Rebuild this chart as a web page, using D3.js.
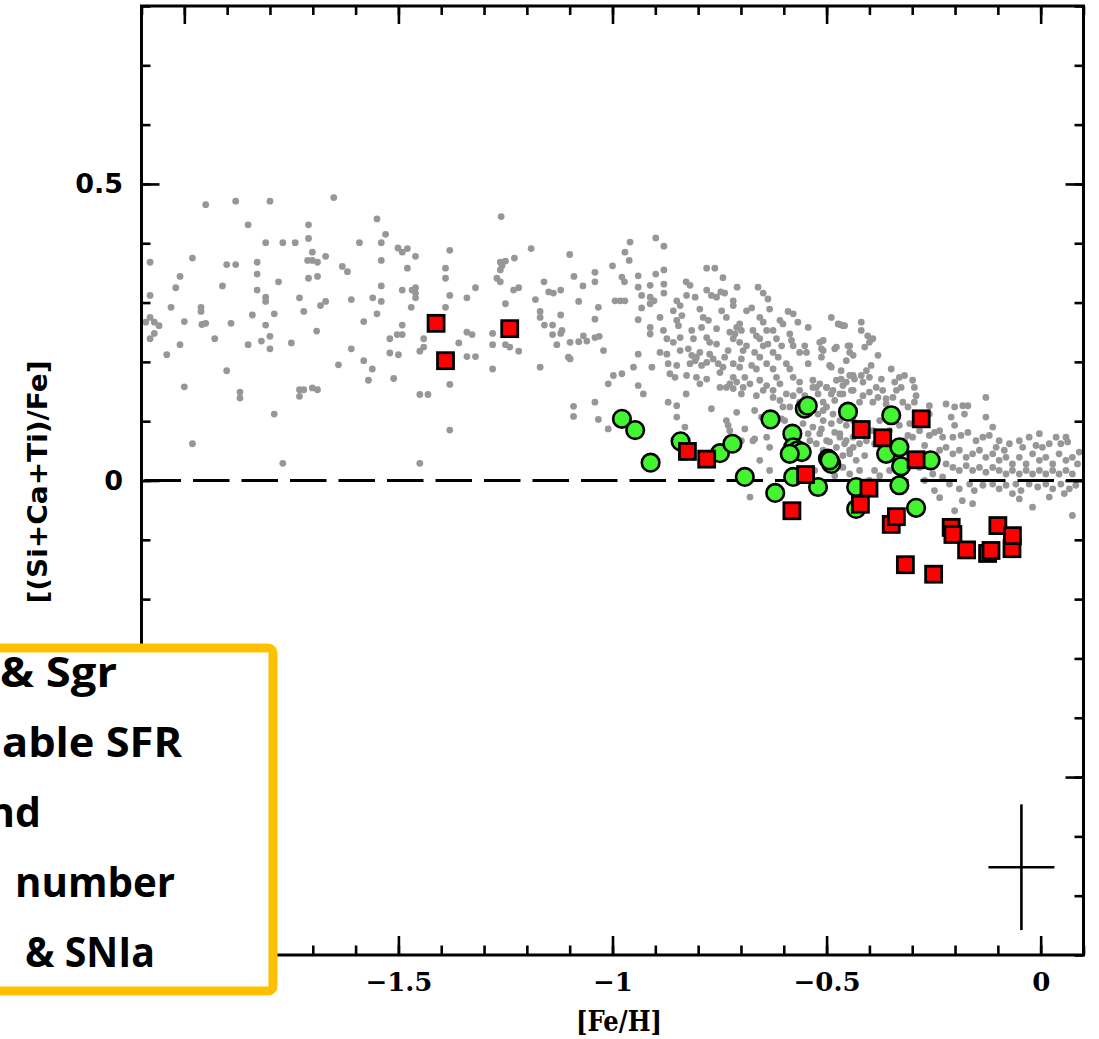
<!DOCTYPE html>
<html>
<head>
<meta charset="utf-8">
<script src="https://cdn.jsdelivr.net/npm/d3@7"></script>
<style>
  html, body { margin: 0; padding: 0; background: #fff; overflow: hidden; }
  svg { display: block; }
</style>
</head>
<body>
<svg id="chart" width="1099" height="1039"></svg>
<script>
// ---- data: [Fe/H], [(Si+Ca+Ti)/Fe] ----
const fieldStars = [
  [-1.950,0.465],[-1.880,0.471],[-1.800,0.471],[-1.651,0.477],[-1.851,0.431],[-1.710,0.431],[-1.550,0.441],[-1.260,0.445],
  [-1.530,0.415],[-1.710,0.408],[-1.810,0.401],[-1.770,0.401],[-1.741,0.401],[-1.591,0.401],[-1.540,0.401],[-1.190,0.391],
  [-1.380,0.388],[-1.501,0.392],[-1.479,0.391],[-1.491,0.385],[-1.701,0.385],[-1.670,0.378],[-1.460,0.378],[-1.229,0.375],
  [-1.100,0.381],[-1.981,0.375],[-2.080,0.368],[-1.901,0.364],[-1.880,0.364],[-1.830,0.368],[-1.712,0.371],[-1.701,0.371],
  [-1.689,0.368],[-1.540,0.371],[-1.262,0.368],[-1.250,0.370],[-1.258,0.362],[-1.631,0.361],[-1.619,0.352],[-1.390,0.358],
  [-1.479,0.358],[-1.262,0.355],[-1.830,0.348],[-2.010,0.344],[-1.710,0.341],[-1.689,0.344],[-1.390,0.341],[-1.270,0.341],
  [-1.262,0.335],[-1.090,0.344],[-1.041,0.351],[-1.041,0.335],[-1.160,0.335],[-1.780,0.335],[-2.020,0.325],[-1.911,0.328],
  [-1.830,0.321],[-1.540,0.328],[-1.491,0.321],[-1.468,0.321],[-1.460,0.325],[-1.460,0.316],[-1.320,0.325],[-1.231,0.321],
  [-1.219,0.325],[-1.149,0.318],[-1.138,0.316],[-1.121,0.321],[-1.069,0.328],[-2.080,0.312],[-1.810,0.309],[-1.810,0.302],
  [-1.731,0.308],[-1.610,0.305],[-1.560,0.308],[-1.540,0.302],[-1.460,0.308],[-1.380,0.312],[-1.340,0.308],[-1.180,0.305],
  [-1.079,0.302],[-1.670,0.302],[-1.682,0.295],[-2.031,0.292],[-1.961,0.292],[-1.961,0.285],[-1.470,0.292],[-1.390,0.292],
  [-1.250,0.298],[-1.033,0.292],[-1.721,0.285],[-1.790,0.281],[-1.841,0.279],[-1.550,0.281],[-1.169,0.285],[-1.169,0.275],
  [-1.121,0.279],[-2.080,0.275],[-2.070,0.267],[-2.059,0.261],[-2.090,0.267],[-2.000,0.268],[-1.959,0.263],[-1.950,0.265],
  [-1.891,0.265],[-1.810,0.262],[-1.581,0.268],[-1.041,0.272],[-1.491,0.262],[-1.159,0.262],[-1.140,0.262],[-2.080,0.239],
  [-2.070,0.248],[-1.929,0.239],[-1.800,0.243],[-1.820,0.235],[-1.800,0.222],[-1.691,0.252],[-1.503,0.246],[-1.491,0.246],
  [-1.520,0.239],[-1.441,0.239],[-1.340,0.250],[-1.328,0.246],[-1.280,0.248],[-1.140,0.246],[-1.121,0.248],[-1.041,0.241],
  [-1.099,0.233],[-1.079,0.234],[-1.068,0.244],[-1.060,0.235],[-2.010,0.229],[-1.851,0.229],[-1.750,0.232],[-1.359,0.232],
  [-1.280,0.229],[-1.250,0.229],[-1.240,0.225],[-1.130,0.229],[-1.610,0.222],[-1.441,0.225],[-1.450,0.218],[-1.219,0.218],
  [-2.041,0.212],[-1.520,0.215],[-1.500,0.212],[-1.340,0.209],[-1.320,0.209],[-1.099,0.205],[-1.581,0.202],[-1.640,0.195],
  [-1.561,0.188],[-1.280,0.188],[-1.169,0.191],[-1.901,0.185],[-1.511,0.172],[-1.570,0.169],[-1.380,0.162],[-2.000,0.158],
  [-1.731,0.153],[-1.721,0.153],[-1.731,0.142],[-1.701,0.156],[-1.689,0.153],[-1.870,0.149],[-1.870,0.139],[-1.450,0.145],
  [-1.431,0.145],[-1.041,0.132],[-1.091,0.125],[-1.091,0.108],[-1.790,0.112],[-1.033,0.103],[-1.380,0.085],[-1.981,0.062],
  [-1.770,0.029],[-1.450,0.029],
  [-0.899,0.409],[-0.959,0.402],[-0.880,0.395],[-0.971,0.385],[-0.961,0.371],[-1.000,0.362],[-0.978,0.343],[-0.972,0.335],
  [-0.940,0.345],[-0.880,0.355],[-0.899,0.348],[-0.780,0.358],[-0.761,0.358],[-0.742,0.342],[-0.940,0.326],[-0.912,0.329],
  [-0.880,0.331],[-0.828,0.335],[-0.819,0.329],[-0.780,0.321],[-0.747,0.318],[-0.738,0.316],[-0.709,0.326],[-0.660,0.326],
  [-0.648,0.316],[-0.637,0.306],[-0.994,0.303],[-0.982,0.303],[-0.971,0.303],[-0.932,0.312],[-0.912,0.309],[-0.903,0.303],
  [-0.912,0.298],[-0.880,0.316],[-0.850,0.303],[-0.827,0.312],[-0.807,0.309],[-0.769,0.312],[-0.757,0.309],[-0.718,0.303],
  [-0.718,0.295],[-0.932,0.291],[-0.858,0.286],[-0.842,0.295],[-0.838,0.278],[-0.796,0.289],[-0.745,0.286],[-0.687,0.286],
  [-0.675,0.291],[-0.633,0.289],[-0.590,0.285],[-0.578,0.281],[-0.489,0.275],[-0.940,0.271],[-0.889,0.275],[-0.850,0.270],
  [-0.846,0.261],[-0.788,0.275],[-0.776,0.270],[-0.734,0.275],[-0.703,0.264],[-0.710,0.258],[-0.656,0.275],[-0.648,0.267],
  [-0.609,0.270],[-0.602,0.264],[-0.567,0.267],[-0.543,0.258],[-0.473,0.264],[-0.462,0.261],[-0.912,0.258],[-0.912,0.247],
  [-0.881,0.253],[-0.815,0.253],[-0.792,0.258],[-0.757,0.256],[-0.726,0.250],[-0.714,0.247],[-0.699,0.253],[-0.672,0.253],
  [-0.664,0.244],[-0.640,0.253],[-0.625,0.253],[-0.586,0.247],[-1.118,0.253],[-1.031,0.243],[-0.873,0.239],[-0.858,0.233],
  [-0.842,0.241],[-0.811,0.239],[-0.780,0.241],[-0.773,0.233],[-0.757,0.230],[-0.718,0.239],[-0.703,0.233],[-0.687,0.227],
  [-0.656,0.239],[-0.648,0.227],[-0.637,0.230],[-0.617,0.239],[-0.605,0.227],[-0.582,0.236],[-0.578,0.227],[-0.551,0.227],
  [-0.516,0.233],[-0.446,0.227],[-1.021,0.219],[-0.889,0.216],[-0.873,0.213],[-0.842,0.219],[-0.823,0.222],[-0.815,0.211],
  [-0.796,0.216],[-0.804,0.208],[-0.773,0.213],[-0.765,0.205],[-0.730,0.219],[-0.738,0.208],[-0.695,0.219],[-0.699,0.205],
  [-0.668,0.216],[-0.656,0.208],[-0.625,0.216],[-0.613,0.208],[-0.563,0.216],[-0.547,0.216],[-0.508,0.219],[-0.477,0.225],
  [-1.103,0.208],[-0.940,0.213],[-0.870,0.197],[-0.850,0.194],[-0.819,0.197],[-0.807,0.202],[-0.792,0.194],[-0.780,0.199],
  [-0.753,0.197],[-0.742,0.191],[-0.749,0.182],[-0.718,0.197],[-0.703,0.191],[-0.675,0.194],[-0.664,0.188],[-0.640,0.197],
  [-0.625,0.188],[-0.594,0.197],[-0.586,0.188],[-0.543,0.197],[-0.493,0.194],[-0.454,0.202],[-0.951,0.191],[-0.908,0.191],
  [-0.978,0.180],[-0.998,0.177],[-1.010,0.163],[-0.866,0.180],[-0.854,0.174],[-0.827,0.177],[-0.804,0.174],[-0.780,0.171],
  [-0.718,0.174],[-0.726,0.163],[-0.710,0.166],[-0.691,0.174],[-0.679,0.163],[-0.656,0.169],[-0.640,0.160],[-0.617,0.174],
  [-0.609,0.163],[-0.578,0.174],[-0.563,0.166],[-0.532,0.169],[-0.524,0.157],[-0.477,0.169],[-0.462,0.160],[-0.438,0.177],
  [-0.940,0.160],[-0.928,0.146],[-0.828,0.146],[-0.796,0.163],[-0.749,0.157],[-0.734,0.157],[-0.718,0.155],[-0.695,0.157],
  [-0.699,0.146],[-0.664,0.143],[-0.648,0.152],[-0.625,0.152],[-0.625,0.140],[-0.594,0.146],[-0.578,0.143],[-0.563,0.152],
  [-0.551,0.143],[-0.532,0.157],[-0.520,0.146],[-0.500,0.157],[-0.489,0.146],[-0.462,0.146],[-0.438,0.152],[-1.010,0.087],
  [-0.870,0.132],[-0.850,0.126],[-0.850,0.107],[-0.831,0.090],[-0.769,0.121],[-0.734,0.101],[-0.730,0.093],[-0.710,0.115],
  [-0.691,0.087],[-0.668,0.118],[-0.652,0.107],[-0.668,0.070],[-0.640,0.073],[-0.633,0.056],[-0.625,0.112],[-0.605,0.104],
  [-0.602,0.124],[-0.586,0.124],[-0.563,0.132],[-0.547,0.124],[-0.532,0.124],[-0.520,0.112],[-0.508,0.101],[-0.500,0.124],
  [-0.485,0.112],[-0.469,0.101],[-0.454,0.093],[-0.438,0.101],[-0.532,0.090],[-0.516,0.079],[-0.500,0.067],[-0.469,0.079],
  [-0.454,0.067],[-0.438,0.056],[-0.446,0.045],[-0.431,0.034],[-0.555,0.096],[-0.543,0.079],[-0.524,0.062],[-0.508,0.051],
  [-0.462,0.022],[-0.446,0.011],[-0.679,-0.028],[-0.726,0.084],[-0.699,0.067],[-0.672,0.067],
  [-0.469,0.263],[-0.458,0.261],[-0.419,0.267],[-0.419,0.253],[-0.404,0.244],[-0.392,0.239],[-0.400,0.233],[-0.508,0.236],
  [-0.512,0.222],[-0.481,0.222],[-0.450,0.227],[-0.446,0.216],[-0.411,0.225],[-0.438,0.211],[-0.380,0.211],[-0.512,0.208],
  [-0.489,0.191],[-0.396,0.194],[-0.407,0.185],[-0.419,0.177],[-0.466,0.185],[-0.446,0.177],[-0.435,0.171],[-0.349,0.188],
  [-0.466,0.171],[-0.454,0.166],[-0.400,0.174],[-0.372,0.171],[-0.330,0.174],[-0.318,0.177],[-0.516,0.163],[-0.500,0.157],
  [-0.415,0.166],[-0.384,0.157],[-0.369,0.152],[-0.341,0.166],[-0.337,0.152],[-0.326,0.157],[-0.299,0.169],[-0.295,0.157],
  [-0.485,0.152],[-0.469,0.146],[-0.442,0.152],[-0.415,0.143],[-0.400,0.149],[-0.380,0.140],[-0.361,0.138],[-0.345,0.140],
  [-0.291,0.143],[-0.295,0.132],[-0.508,0.132],[-0.481,0.135],[-0.423,0.132],[-0.392,0.132],[-0.361,0.129],[-0.322,0.132],
  [-0.310,0.124],[-0.128,0.140],[-0.221,0.129],[-0.201,0.124],[-0.182,0.126],[-0.170,0.126],[-0.508,0.118],[-0.512,0.087],
  [-0.489,0.096],[-0.260,0.126],[-0.260,0.112],[-0.209,0.107],[-0.201,0.093],[-0.178,0.112],[-0.128,0.107],[-0.112,0.090],
  [-0.481,0.081],[-0.469,0.073],[-0.493,0.065],[-0.477,0.056],[-0.458,0.062],[-0.446,0.051],[-0.462,0.042],[-0.438,0.073],
  [-0.423,0.062],[-0.407,0.067],[-0.392,0.084],[-0.388,0.062],[-0.306,0.096],[-0.310,0.076],[-0.299,0.073],[-0.283,0.084],
  [-0.260,0.076],[-0.248,0.081],[-0.236,0.084],[-0.229,0.073],[-0.205,0.073],[-0.186,0.076],[-0.170,0.081],[-0.151,0.067],
  [-0.135,0.073],[-0.120,0.076],[-0.097,0.067],[-0.104,0.056],[-0.073,0.062],[-0.085,0.051],[-0.050,0.067],[-0.042,0.056],
  [-0.027,0.073],[-0.003,0.079],[-0.011,0.059],[0.004,0.056],[0.020,0.062],[0.036,0.073],[0.047,0.062],[0.063,0.065],
  [0.059,0.073],[0.090,0.048],[-0.236,0.051],[-0.221,0.056],[-0.205,0.045],[-0.190,0.051],[-0.174,0.039],[-0.159,0.045],
  [-0.143,0.051],[-0.128,0.039],[-0.112,0.045],[-0.097,0.034],[-0.081,0.039],[-0.066,0.028],[-0.050,0.039],[-0.034,0.028],
  [-0.019,0.045],[-0.003,0.034],[0.012,0.039],[0.028,0.028],[0.043,0.045],[0.059,0.034],[0.074,0.039],[0.086,0.028],
  [-0.221,0.028],[-0.205,0.022],[-0.190,0.017],[-0.174,0.025],[-0.159,0.017],[-0.143,0.022],[-0.128,0.014],[-0.112,0.022],
  [-0.097,0.017],[-0.081,0.011],[-0.066,0.017],[-0.050,0.011],[-0.034,0.017],[-0.019,0.011],[-0.003,0.017],[0.012,0.011],
  [0.028,0.017],[0.043,0.011],[0.059,0.017],[0.074,0.011],[-0.283,0.022],[-0.267,0.028],[-0.252,0.011],[-0.229,0.006],
  [-0.213,-0.006],[-0.190,-0.014],[-0.166,-0.006],[-0.155,-0.017],[-0.135,-0.008],[-0.112,-0.006],[-0.097,-0.014],[-0.081,-0.008],
  [-0.058,-0.006],[-0.046,-0.017],[-0.027,-0.006],[-0.007,-0.011],[0.012,-0.006],[0.028,-0.014],[0.047,-0.006],[0.067,-0.014],
  [0.082,-0.008],[-0.159,-0.039],[-0.050,-0.031],[-0.019,-0.045],[0.020,-0.028],[0.055,-0.022],[0.074,-0.059],[-0.066,-0.022],
  [-0.609,0.135],[-0.598,0.101],[-0.539,0.067],[-0.528,0.017],[-0.481,0.008],[-0.423,0.017],[-0.400,0.000],[-0.388,0.017],
  [-0.376,0.008],[-0.411,0.042],[-0.376,0.101],[-0.353,0.084],[-0.376,0.059],[-0.330,0.093],[-0.306,0.042],[-0.271,0.000],
  [-0.248,-0.017],[-0.236,-0.029],[-0.201,-0.051],[-0.183,-0.034],[-0.318,0.067],[-0.271,0.059],[-0.353,0.017],[-0.656,0.034],
  [-0.633,0.017]
];

const circleStars = [
  [-0.978,0.104],[-0.947,0.085],[-0.911,0.030],[-0.841,0.066],[-0.749,0.046],[-0.720,0.062],[-0.691,0.006],[-0.631,0.103],
  [-0.620,-0.021],[-0.580,0.079],[-0.551,0.121],[-0.544,0.126],[-0.578,0.056],[-0.567,0.051],[-0.558,0.048],[-0.586,0.045],
  [-0.578,0.006],[-0.520,-0.011],[-0.497,0.037],[-0.489,0.028],[-0.493,0.034],[-0.450,0.116],[-0.349,0.110],[-0.361,0.045],
  [-0.330,0.056],[-0.326,0.024],[-0.330,-0.008],[-0.257,0.034],[-0.431,-0.011],[-0.431,-0.048],[-0.291,-0.046]
];

const squareStars = [
  [-1.412,0.265],[-1.390,0.202],[-1.240,0.256],[-0.825,0.049],[-0.780,0.036],[-0.549,0.010],[-0.581,-0.051],[-0.419,0.086],
  [-0.369,0.072],[-0.279,0.104],[-0.291,0.035],[-0.401,-0.013],[-0.421,-0.040],[-0.349,-0.074],[-0.337,-0.061],[-0.316,-0.142],
  [-0.250,-0.158],[-0.209,-0.079],[-0.205,-0.091],[-0.173,-0.117],[-0.124,-0.123],[-0.116,-0.118],[-0.100,-0.076],[-0.067,-0.115],
  [-0.066,-0.093]
];

// typical uncertainty, drawn as a cross
const errorCross = { feh: -0.045, alpha: -0.652, dFeh: 0.077, dAlpha: 0.106 };

const xMajorTicks = [-2, -1.5, -1, -0.5, 0];
const yMajorTicks = [-0.5, 0, 0.5];
const xTickLabels = [-1.5, -1, -0.5, 0];
const yTickLabels = [0, 0.5];
const xTitle = "[Fe/H]";
const yTitle = "[(Si+Ca+Ti)/Fe]";
const noteLines = ["& Sgr", "able SFR", "nd", "number", "& SNIa"];

// ---- layout ----
const svg = d3.select("#chart");
const plotL = 141.5, plotR = 1083.5, plotT = 6, plotB = 955;
const x = d3.scaleLinear().domain([-2.1, 0.1]).range([plotL, plotR]);
const y = d3.scaleLinear().domain([-0.8, 0.8]).range([plotB, plotT]);

// horizontal extent [left, right] of each note line; left is null where the line runs off the page
const noteExtent = [[0, 117], [2, 182], [null, 41], [15, 175], [25, 155]];
const noteBaseline0 = 687, noteStep = 70;

// field stars
svg.append("g").selectAll("circle").data(fieldStars).join("circle")
  .attr("cx", d => x(d[0])).attr("cy", d => y(d[1]))
  .attr("r", 3.4).attr("fill", "#979797");

// solar ratio reference line
svg.append("path")
  .datum([[-2.1, 0], [0.1, 0]])
  .attr("d", d3.line().x(d => x(d[0])).y(d => y(d[1])))
  .attr("stroke", "#000").attr("stroke-width", 3)
  .attr("stroke-dasharray", "36.5,12").attr("stroke-dashoffset", -3)
  .attr("fill", "none");

// circle sample
svg.append("g").selectAll("circle").data(circleStars).join("circle")
  .attr("cx", d => x(d[0])).attr("cy", d => y(d[1]))
  .attr("r", 8.8).attr("fill", "#43f531")
  .attr("stroke", "#000").attr("stroke-width", 2.6);

// square sample
const sq = 16;
svg.append("g").selectAll("rect").data(squareStars).join("rect")
  .attr("x", d => x(d[0]) - sq / 2).attr("y", d => y(d[1]) - sq / 2)
  .attr("width", sq).attr("height", sq)
  .attr("fill", "#ff0000")
  .attr("stroke", "#000").attr("stroke-width", 2.8);

// error cross
const ec = svg.append("g").attr("stroke", "#000").attr("stroke-width", 2.6);
ec.append("line")
  .attr("x1", x(errorCross.feh)).attr("x2", x(errorCross.feh))
  .attr("y1", y(errorCross.alpha - errorCross.dAlpha)).attr("y2", y(errorCross.alpha + errorCross.dAlpha));
ec.append("line")
  .attr("x1", x(errorCross.feh - errorCross.dFeh)).attr("x2", x(errorCross.feh + errorCross.dFeh))
  .attr("y1", y(errorCross.alpha)).attr("y2", y(errorCross.alpha));

// ---- axes: inward ticks on all four sides ----
function styleAxis(g) {
  g.select(".domain").remove();
  g.selectAll(".tick line").attr("stroke", "#000").attr("stroke-width", 2.6);
}
const minorX = x.ticks(22), minorY = y.ticks(16);

// bottom
svg.append("g").attr("transform", `translate(0,${plotB})`)
  .call(d3.axisBottom(x).tickValues(minorX).tickSize(-9.5).tickFormat("")).call(styleAxis);
svg.append("g").attr("transform", `translate(0,${plotB})`)
  .call(d3.axisBottom(x).tickValues(xMajorTicks).tickSize(-19).tickFormat("")).call(styleAxis);
const xLab = svg.append("g").attr("transform", `translate(0,${plotB})`)
  .call(d3.axisBottom(x).tickValues(xTickLabels).tickSize(0).tickPadding(18).tickFormat(d3.format("")))
  .call(styleAxis);
xLab.selectAll("text").attr("fill", "#000")
  .attr("font-family", "'DejaVu Serif', serif").attr("font-weight", "bold").attr("font-size", 26);

// top
svg.append("g").attr("transform", `translate(0,${plotT})`)
  .call(d3.axisTop(x).tickValues(minorX).tickSize(-9).tickFormat("")).call(styleAxis);
svg.append("g").attr("transform", `translate(0,${plotT})`)
  .call(d3.axisTop(x).tickValues(xMajorTicks).tickSize(-18).tickFormat("")).call(styleAxis);

// left
svg.append("g").attr("transform", `translate(${plotL},0)`)
  .call(d3.axisLeft(y).tickValues(minorY).tickSize(-9).tickFormat("")).call(styleAxis);
svg.append("g").attr("transform", `translate(${plotL},0)`)
  .call(d3.axisLeft(y).tickValues(yMajorTicks).tickSize(-18).tickFormat("")).call(styleAxis);
const yLab = svg.append("g").attr("transform", `translate(${plotL},0)`)
  .call(d3.axisLeft(y).tickValues(yTickLabels).tickSize(0).tickPadding(18.5).tickFormat(d3.format("")))
  .call(styleAxis);
yLab.selectAll("text").attr("fill", "#000")
  .attr("font-family", "'DejaVu Sans', sans-serif").attr("font-weight", "bold").attr("font-size", 27);

// right
svg.append("g").attr("transform", `translate(${plotR},0)`)
  .call(d3.axisRight(y).tickValues(minorY).tickSize(-9).tickFormat("")).call(styleAxis);
svg.append("g").attr("transform", `translate(${plotR},0)`)
  .call(d3.axisRight(y).tickValues(yMajorTicks).tickSize(-18).tickFormat("")).call(styleAxis);

// frame
svg.append("rect")
  .attr("x", plotL).attr("y", plotT).attr("width", plotR - plotL).attr("height", plotB - plotT)
  .attr("fill", "none").attr("stroke", "#000").attr("stroke-width", 3);

// axis titles
svg.append("text")
  .attr("x", 619).attr("y", 1031).attr("text-anchor", "middle")
  .attr("font-family", "'DejaVu Serif', serif").attr("font-weight", "bold").attr("font-size", 27)
  .attr("textLength", 86).attr("lengthAdjust", "spacingAndGlyphs")
  .text(xTitle);
svg.append("text")
  .attr("transform", "translate(47,482) rotate(-90)").attr("text-anchor", "middle")
  .attr("font-family", "'DejaVu Sans', sans-serif").attr("font-weight", "bold").attr("font-size", 27)
  .attr("textLength", 243).attr("lengthAdjust", "spacingAndGlyphs")
  .text(yTitle);

// ---- note box ----
svg.append("rect")
  .attr("x", -20).attr("y", 648).attr("width", 293).attr("height", 343).attr("rx", 5)
  .attr("fill", "#fff").attr("stroke", "#ffc000").attr("stroke-width", 9);
const notes = svg.append("g")
  .attr("font-family", "'Open Sans', sans-serif").attr("font-weight", "bold").attr("font-size", 41)
  .attr("fill", "#000");
noteLines.forEach((line, i) => {
  const [l, r] = noteExtent[i];
  const t = notes.append("text").attr("y", noteBaseline0 + i * noteStep).text(line);
  if (l === null) {
    t.attr("x", r).attr("text-anchor", "end");
  } else {
    t.attr("x", l).attr("textLength", r - l).attr("lengthAdjust", "spacingAndGlyphs");
  }
});
</script>
</body>
</html>
